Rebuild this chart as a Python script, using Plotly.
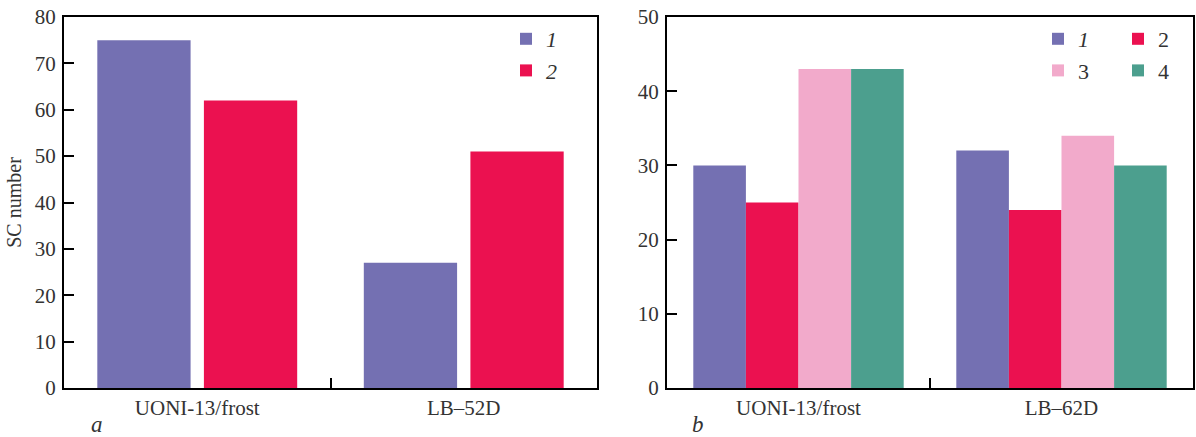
import plotly.graph_objects as go

# ---- data ----
cats_a = ["UONI-13/frost", "LB\u201352D"]
a_series1 = [75, 27]
a_series2 = [62, 51]

cats_b = ["UONI-13/frost", "LB\u201362D"]
b_series1 = [30, 32]
b_series2 = [25, 24]
b_series3 = [43, 34]
b_series4 = [43, 30]

series_names = ["<i>1</i>", "2", "3", "4"]
a_names = ["<i>1</i>", "<i>2</i>"]

C1 = "#7470B2"
C2 = "#EB1150"
C3 = "#F2AACB"
C4 = "#4C9F8E"

FONT = "Liberation Serif"
W, H = 1196, 437


def px(x):
    return x / W


def py(y):
    return 1 - y / H


fig = go.Figure()

fig.add_trace(go.Bar(x=cats_a, y=a_series1, name=a_names[0], marker=dict(color=C1, line=dict(width=0)),
                     xaxis="x", yaxis="y", legend="legend"))
fig.add_trace(go.Bar(x=cats_a, y=a_series2, name=a_names[1], marker=dict(color=C2, line=dict(width=0)),
                     xaxis="x", yaxis="y", legend="legend"))

fig.add_trace(go.Bar(x=cats_b, y=b_series1, name=series_names[0], marker=dict(color=C1, line=dict(width=0)),
                     xaxis="x2", yaxis="y2", legend="legend2"))
fig.add_trace(go.Bar(x=cats_b, y=b_series2, name=series_names[1], marker=dict(color=C2, line=dict(width=0)),
                     xaxis="x2", yaxis="y2", legend="legend3"))
fig.add_trace(go.Bar(x=cats_b, y=b_series3, name=series_names[2], marker=dict(color=C3, line=dict(width=0)),
                     xaxis="x2", yaxis="y2", legend="legend2"))
fig.add_trace(go.Bar(x=cats_b, y=b_series4, name=series_names[3], marker=dict(color=C4, line=dict(width=0)),
                     xaxis="x2", yaxis="y2", legend="legend3"))

ydom = [py(388), py(17)]
axis_common = dict(showline=True, linecolor="black", linewidth=2, mirror=True,
                   showgrid=False, zeroline=False, tickcolor="black", automargin=False,
                   ticklabeloverflow="allow",
                   tickfont=dict(family=FONT, size=21, color="#333"))

legend_font = dict(family=FONT, size=22, color="#333")

fig.update_layout(
    width=W, height=H,
    margin=dict(l=0, r=0, t=0, b=0, autoexpand=False),
    plot_bgcolor="white", paper_bgcolor="white",
    barmode="group",
    font=dict(family=FONT, size=21, color="#333"),
    xaxis=dict(domain=[px(64), px(597)], anchor="y", ticks="inside", tickson="boundaries",
               ticklen=10, tickwidth=2, **axis_common),
    yaxis=dict(domain=ydom, anchor="x", range=[0, 80], dtick=10, ticks="inside",
               ticklen=10, tickwidth=2, ticklabelstandoff=2,
               title=dict(text="SC number", font=dict(family=FONT, size=20, color="#333"), standoff=8),
               **axis_common),
    xaxis2=dict(domain=[px(667), px(1193)], anchor="y2", ticks="inside", tickson="boundaries",
                ticklen=10, tickwidth=2, **axis_common),
    yaxis2=dict(domain=ydom, anchor="x2", range=[0, 50], dtick=10, ticks="inside",
                ticklen=10, tickwidth=2, ticklabelstandoff=2, **axis_common),
    legend=dict(x=px(506), y=py(18), xanchor="left", yanchor="top", bgcolor="rgba(0,0,0,0)",
                font=legend_font, itemwidth=30),
    legend2=dict(x=px(1038), y=py(18), xanchor="left", yanchor="top", bgcolor="rgba(0,0,0,0)",
                 font=legend_font, itemwidth=30),
    legend3=dict(x=px(1118), y=py(18), xanchor="left", yanchor="top", bgcolor="rgba(0,0,0,0)",
                 font=legend_font, itemwidth=30),
    annotations=[
        dict(text="<i>a</i>", x=px(97), y=py(424), xref="paper", yref="paper",
             xanchor="center", yanchor="middle",
             showarrow=False, font=dict(family=FONT, size=23, color="#333")),
        dict(text="<i>b</i>", x=px(698), y=py(424), xref="paper", yref="paper",
             xanchor="center", yanchor="middle",
             showarrow=False, font=dict(family=FONT, size=23, color="#333")),
    ],
)

fig.update_traces(selector=dict(xaxis="x2"), width=0.2)
fig.update_traces(selector=dict(xaxis="x"), width=0.35)

fig.write_html("out.html",
               config={"displayModeBar": False},
               post_script="document.body.style.margin='0px';document.body.style.overflow='hidden';")
